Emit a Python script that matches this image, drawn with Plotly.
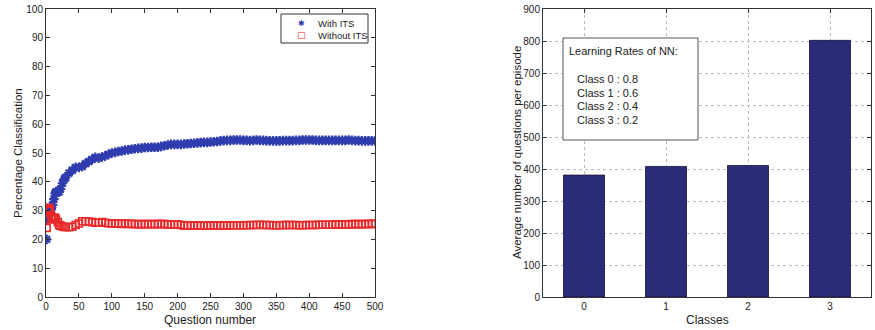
import plotly.graph_objects as go

# ---- Left panel data ----
question = [1, 2, 3, 4, 5, 6, 8, 10, 12, 14, 15, 18, 20, 22, 25, 28, 30, 35, 40, 45,
            50, 55, 60, 65, 70, 75, 80, 85, 90, 95, 100, 105, 110, 115, 120, 125, 130,
            135, 140, 145, 150, 155, 160, 165, 170, 175, 180, 185, 190, 195, 200, 205,
            210, 215, 220, 225, 230, 235, 240, 245, 250, 255, 260, 265, 270, 275, 280,
            285, 290, 295, 300, 305, 310, 315, 320, 325, 330, 335, 340, 345, 350, 355,
            360, 365, 370, 375, 380, 385, 390, 395, 400, 405, 410, 415, 420, 425, 430,
            435, 440, 445, 450, 455, 460, 465, 470, 475, 480, 485, 490, 495, 500]

with_its = [20, 27, 29, 30, 30, 30, 30.5, 32, 34, 36, 36.5, 36.5, 36.5, 37.5, 39.5, 41, 41.5, 43, 44, 45,
            45, 45.3, 46.3, 47, 47.8, 48.5, 48.2, 48.6, 49, 49.5, 50, 50.2, 50.5, 50.7, 51, 51.1, 51.3,
            51.5, 51.6, 51.7, 51.9, 51.9, 52, 52, 52, 52.3, 52.5, 52.8, 53, 53, 53, 53,
            53.1, 53.2, 53.3, 53.4, 53.5, 53.6, 53.7, 53.7, 53.8, 53.9, 54, 54.2, 54.3, 54.4, 54.4,
            54.5, 54.5, 54.5, 54.4, 54.4, 54.3, 54.4, 54.5, 54.4, 54.4, 54.3, 54.2, 54.2, 54.2, 54.2,
            54.3, 54.3, 54.3, 54.3, 54.4, 54.4, 54.5, 54.5, 54.5, 54.5, 54.4, 54.4, 54.4, 54.4, 54.4,
            54.4, 54.4, 54.4, 54.4, 54.4, 54.5, 54.4, 54.3, 54.3, 54.2, 54.2, 54.2, 54.2, 54.2]

without_its = [24, 27, 30, 30.5, 31, 30, 28, 27, 27.5, 27.5, 27, 26, 25, 24.8, 24.5, 24.3, 24.3, 24.2, 24.4, 25,
               25.5, 26.3, 26.3, 26.2, 26, 25.8, 25.8, 26, 25.8, 25.6, 25.5, 25.5, 25.5, 25.4, 25.5, 25.4, 25.4,
               25.3, 25.3, 25.3, 25.3, 25.3, 25.3, 25.3, 25.3, 25.4, 25.3, 25.2, 25.2, 25.2, 25.2, 25.0,
               24.8, 24.8, 24.8, 24.8, 24.8, 24.8, 24.8, 24.8, 24.8, 24.8, 24.8, 24.8, 24.8, 24.8, 24.9,
               24.9, 24.9, 24.9, 24.9, 24.9, 25.0, 25.0, 25.0, 25.1, 25.0, 25.0, 25.0, 24.9, 24.9, 24.9,
               25.0, 25.0, 25.0, 25.0, 25.0, 24.9, 24.9, 25.0, 25.0, 25.0, 25.0, 25.1, 25.1, 25.1, 25.1,
               25.1, 25.2, 25.2, 25.2, 25.2, 25.2, 25.3, 25.3, 25.3, 25.3, 25.3, 25.4, 25.4, 25.4]

series_names = ["With ITS", "Without ITS"]

# ---- Right panel data ----
classes = ["0", "1", "2", "3"]
avg_questions = [381, 408, 411, 802]
box_title = "Learning Rates of NN:"
rate_labels = ["Class 0 : 0.8", "Class 1 : 0.6", "Class 2 : 0.4", "Class 3 : 0.2"]

FONT = "Liberation Sans, Arial, Helvetica, sans-serif"
TXT = "#222222"
BLUE = "#2f3cae"
RED = "#e8282a"

W, H = 875, 330


def fx(X):
    return X / W


def fy(Y):
    return 1 - Y / H


fig = go.Figure()

fig.add_trace(go.Scatter(
    x=question, y=with_its, mode="markers", name=series_names[0], showlegend=False,
    marker=dict(symbol="asterisk-open", size=8, color=BLUE,
                line=dict(color=BLUE, width=2.2)),
    xaxis="x", yaxis="y"))
fig.add_trace(go.Scatter(
    x=question, y=without_its, mode="markers", name=series_names[1], showlegend=False,
    marker=dict(symbol="square-open", size=7, color=RED,
                line=dict(color=RED, width=1.6)),
    xaxis="x", yaxis="y"))

fig.add_trace(go.Bar(
    x=classes, y=avg_questions, width=0.5, showlegend=False,
    marker=dict(color="#2b2b7a", line=dict(color="#111133", width=0.8)),
    xaxis="x2", yaxis="y2"))

axis_common = dict(showline=True, linecolor="#333333", linewidth=1, mirror="ticks",
                   ticks="inside", ticklen=4, tickcolor="#333333", zeroline=False,
                   automargin=False,
                   tickfont=dict(family=FONT, size=10, color=TXT))

fig.update_layout(
    width=W, height=H,
    margin=dict(l=0, r=0, t=0, b=0),
    paper_bgcolor="white", plot_bgcolor="white",
    font=dict(family=FONT, color=TXT),
    xaxis=dict(domain=[fx(46), fx(375)], range=[0, 500], tickmode="array",
               tickvals=list(range(0, 501, 50)), showgrid=False,
               anchor="y", **axis_common),
    yaxis=dict(domain=[fy(297), fy(9)], range=[0, 100], tickmode="array",
               tickvals=list(range(0, 101, 10)), showgrid=False,
               anchor="x", **axis_common),
    xaxis2=dict(domain=[fx(543), fx(871)], range=[-0.5, 3.5], type="category",
                showgrid=True, gridcolor="#bbbbbb", griddash="dot", gridwidth=1,
                anchor="y2", **axis_common),
    yaxis2=dict(domain=[fy(297), fy(9)], range=[0, 900], tickmode="array",
                tickvals=list(range(0, 901, 100)),
                showgrid=True, gridcolor="#bbbbbb", griddash="dot", gridwidth=1,
                anchor="x2", **axis_common),
)

# axis titles
title_font = dict(family=FONT, size=12, color=TXT)
fig.add_annotation(xref="paper", yref="paper", x=fx(210), y=fy(320), text="Question number",
                   showarrow=False, xanchor="center", yanchor="middle", font=title_font)
fig.add_annotation(xref="paper", yref="paper", x=fx(707), y=fy(320), text="Classes",
                   showarrow=False, xanchor="center", yanchor="middle", font=title_font)
fig.add_annotation(xref="paper", yref="paper", x=fx(18), y=fy(153), text="Percentage Classification",
                   showarrow=False, xanchor="center", yanchor="middle", textangle=-90,
                   font=dict(family=FONT, size=11.5, color=TXT))
fig.add_annotation(xref="paper", yref="paper", x=fx(517), y=fy(153),
                   text="Average number of questions per episode",
                   showarrow=False, xanchor="center", yanchor="middle", textangle=-90,
                   font=dict(family=FONT, size=11.5, color=TXT))

# manual compact legend (MATLAB style)
fig.add_shape(type="rect", xref="paper", yref="paper",
              x0=fx(281), x1=fx(368), y0=fy(43), y1=fy(14),
              line=dict(color="#333333", width=1), fillcolor="white")
fig.add_annotation(xref="paper", yref="paper", x=fx(301), y=fy(23),
                   text="✱", showarrow=False, xanchor="center", yanchor="middle",
                   font=dict(family="DejaVu Sans", size=8, color=BLUE))
fig.add_annotation(xref="paper", yref="paper", x=fx(301), y=fy(35),
                   text="□", showarrow=False, xanchor="center", yanchor="middle",
                   font=dict(family="DejaVu Sans", size=9, color=RED))
for i, nm in enumerate(series_names):
    fig.add_annotation(xref="paper", yref="paper", x=fx(316), y=fy(23 + 12 * i),
                       text=nm, showarrow=False, xanchor="left", yanchor="middle",
                       font=dict(family=FONT, size=9.5, color=TXT))

# learning-rate text box
fig.add_shape(type="rect", xref="paper", yref="paper",
              x0=fx(563), x1=fx(698), y0=fy(140), y1=fy(38),
              line=dict(color="#555555", width=1), fillcolor="white")
fig.add_annotation(xref="paper", yref="paper", x=fx(567), y=fy(51), text=box_title,
                   showarrow=False, xanchor="left", yanchor="middle",
                   font=dict(family=FONT, size=11, color=TXT))
for i, s in enumerate(rate_labels):
    fig.add_annotation(xref="paper", yref="paper", x=fx(575), y=fy(79 + 13.7 * i), text=s,
                       showarrow=False, xanchor="left", yanchor="middle",
                       font=dict(family=FONT, size=11, color=TXT))

fig.write_html("out.html", config={"displayModeBar": False},
               post_script="document.body.style.margin='0';document.body.style.overflow='hidden';")
